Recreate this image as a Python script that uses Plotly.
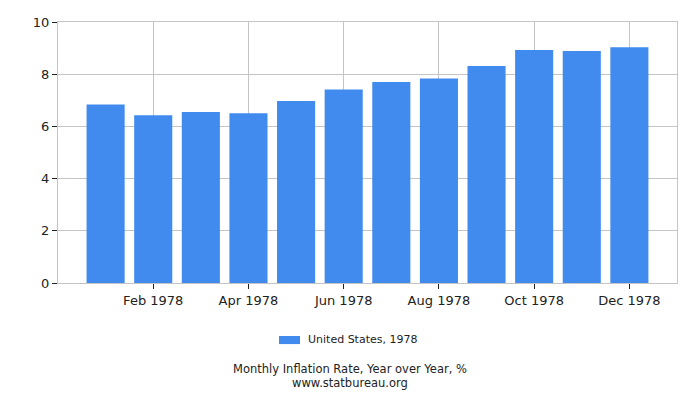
import plotly.graph_objects as go

# Datos: inflación mensual interanual, EE. UU. 1978
months = ['Jan 1978', 'Feb 1978', 'Mar 1978', 'Apr 1978', 'May 1978', 'Jun 1978',
          'Jul 1978', 'Aug 1978', 'Sep 1978', 'Oct 1978', 'Nov 1978', 'Dec 1978']
inflation = [6.84, 6.43, 6.55, 6.50, 6.97, 7.41, 7.70, 7.84, 8.31, 8.93, 8.89, 9.03]
series_name = 'United States, 1978'

tick_idx = [1, 3, 5, 7, 9, 11]
tick_labels = [months[i] for i in tick_idx]

bar_color = '#418bef'
grid_color = '#c4c4c4'
text_color = '#222222'

fig = go.Figure()
fig.add_trace(go.Bar(x=list(range(len(months))), y=inflation, name=series_name,
                     marker_color=bar_color, marker_line_width=0, width=0.8,
                     showlegend=False))

# Leyenda dibujada a mano (rectángulo ancho como en el original)
fig.add_shape(type='rect', xref='paper', yref='paper',
              x0=0.357, x1=0.391, y0=-0.234, y1=-0.203,
              fillcolor=bar_color, line_width=0)

fig.update_layout(
    width=700, height=400,
    margin=dict(l=58, r=23, t=22, b=117),
    paper_bgcolor='white', plot_bgcolor='white',
    font=dict(family='DejaVu Sans', size=13, color=text_color),
    showlegend=False,
    annotations=[
        dict(text=series_name, x=0.4006, xref='paper', xanchor='left',
             y=-0.218, yref='paper', yanchor='middle',
             showarrow=False, font=dict(size=11)),
        dict(text='Monthly Inflation Rate, Year over Year, %', x=0.4717, xref='paper',
             y=-0.329, yref='paper', yanchor='middle',
             showarrow=False, font=dict(size=11.5)),
        dict(text='www.statbureau.org', x=0.4717, xref='paper',
             y=-0.384, yref='paper', yanchor='middle',
             showarrow=False, font=dict(size=11.5)),
    ],
)
fig.update_xaxes(range=[-1, 12], tickvals=tick_idx, ticktext=tick_labels,
                 showgrid=True, gridcolor=grid_color, ticks='outside', ticklen=5,
                 tickcolor=text_color, showline=True, linecolor=grid_color,
                 mirror=True, zeroline=False, automargin=False)
fig.update_yaxes(range=[0, 10], dtick=2, showgrid=True, gridcolor=grid_color,
                 ticks='outside', ticklen=5, tickcolor=text_color, showline=True,
                 linecolor=grid_color, mirror=True, zeroline=False, automargin=False)

fig.write_html('out.html', config={'displayModeBar': False},
               post_script="document.body.style.margin='0';")
